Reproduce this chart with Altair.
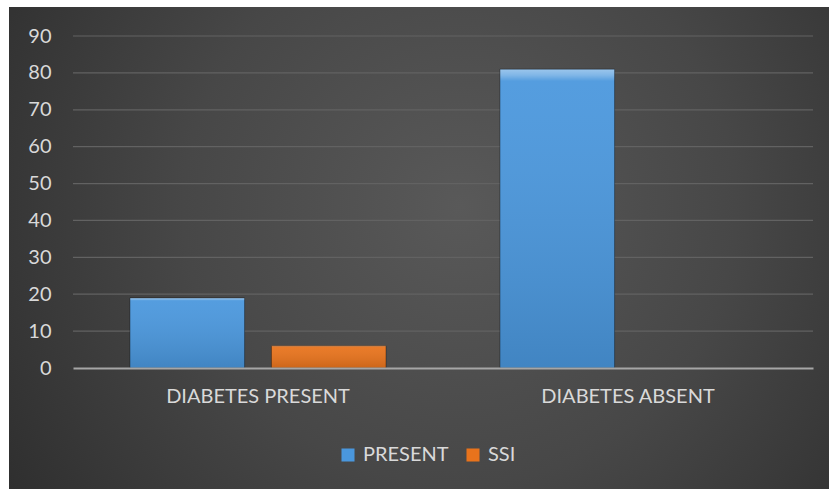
import altair as alt
import pandas as pd

# Surgical site infection counts by diabetes status
groups = ["DIABETES PRESENT", "DIABETES PRESENT", "DIABETES ABSENT", "DIABETES ABSENT"]
series = ["PRESENT", "SSI", "PRESENT", "SSI"]
values = [19, 6, 81, 0]

group_order = ["DIABETES PRESENT", "DIABETES ABSENT"]
series_order = ["PRESENT", "SSI"]
series_colors = ["#4a97dd", "#e8731c"]
y_ticks = [0, 10, 20, 30, 40, 50, 60, 70, 80, 90]

df = pd.DataFrame({"group": groups, "series": series, "value": values})
grid_df = pd.DataFrame({"value": y_ticks[1:]})

FONT = "Lato"
LABEL = "#d9d9d9"

y_scale = alt.Scale(domain=[0, 90], nice=False)
y_axis = alt.Axis(
    title=None, values=y_ticks, domain=False, ticks=False, grid=False, zindex=1,
    labelOverlap=False,
    labelColor=LABEL, labelFont=FONT, labelFontSize=20, labelPadding=22,
)

# dark panel with a soft radial light behind the plot
panel_fill = alt.RadialGradient(
    gradient="radial",
    x1=0.55, y1=0.45, r1=0.0,
    x2=0.55, y2=0.45, r2=0.75,
    stops=[
        alt.GradientStop(color="#595959", offset=0.0),
        alt.GradientStop(color="#474747", offset=0.45),
        alt.GradientStop(color="#272727", offset=1.0),
    ],
)
panel = alt.Chart(pd.DataFrame({"p": [0]})).mark_rect(fill=panel_fill).encode(
    x=alt.value(-64), x2=alt.value(756), y=alt.value(-29), y2=alt.value(453)
)

# horizontal gridlines sit on the panel, behind the bars
grid = alt.Chart(grid_df).mark_rule(color="#626262", strokeWidth=1.2).encode(
    y=alt.Y("value:Q", scale=y_scale, axis=y_axis),
    x=alt.value(0), x2=alt.value(740),
)

x_enc = alt.X(
    "group:N",
    sort=group_order,
    scale=alt.Scale(paddingInner=0.308, paddingOuter=0.154),
    axis=alt.Axis(
        title=None, labelAngle=0, ticks=False, grid=False, zindex=1,
        domainColor="#a6a6a6", domainWidth=2, labelLimit=0,
        labelColor=LABEL, labelFont=FONT, labelFontSize=20, labelPadding=18,
    ),
)
x_off = alt.XOffset("series:N", sort=series_order,
                    scale=alt.Scale(paddingInner=0.19, paddingOuter=0))
y_enc = alt.Y("value:Q", scale=y_scale, axis=y_axis)

bars = alt.Chart(df).mark_bar().encode(
    x=x_enc,
    xOffset=x_off,
    y=y_enc,
    color=alt.Color(
        "series:N",
        sort=series_order,
        scale=alt.Scale(domain=series_order, range=series_colors),
        legend=alt.Legend(
            title=None, orient="none", direction="horizontal",
            legendX=265, legendY=409,
            symbolType="square", symbolSize=170, symbolStrokeWidth=0,
            labelColor=LABEL, labelFont=FONT, labelFontSize=20,
            labelOffset=5, columnPadding=14,
        ),
    ),
)

# bevel highlight at the top and darker shading toward the base
shade = alt.LinearGradient(
    gradient="linear", x1=0, y1=0, x2=0, y2=1,
    stops=[
        alt.GradientStop(color="rgba(255,255,255,0.45)", offset=0.0),
        alt.GradientStop(color="rgba(255,255,255,0.30)", offset=0.02),
        alt.GradientStop(color="rgba(255,255,255,0.06)", offset=0.04),
        alt.GradientStop(color="rgba(0,0,0,0.12)", offset=1.0),
    ],
)
overlay = alt.Chart(df).mark_bar(fill=shade, stroke="rgba(0,0,0,0.35)", strokeWidth=1).encode(
    x=x_enc, xOffset=x_off, y=y_enc
).transform_filter("datum.value > 0")

chart = alt.layer(panel, grid, bars, overlay).properties(
    width=740,
    height=332,
    autosize=alt.AutoSizeParams(type="none"),
    padding={"left": 73, "top": 36, "right": 16, "bottom": 121},
    background="white",
).configure_view(stroke=None)

chart.save("out.html", embed_options={"renderer": "svg", "actions": False})
